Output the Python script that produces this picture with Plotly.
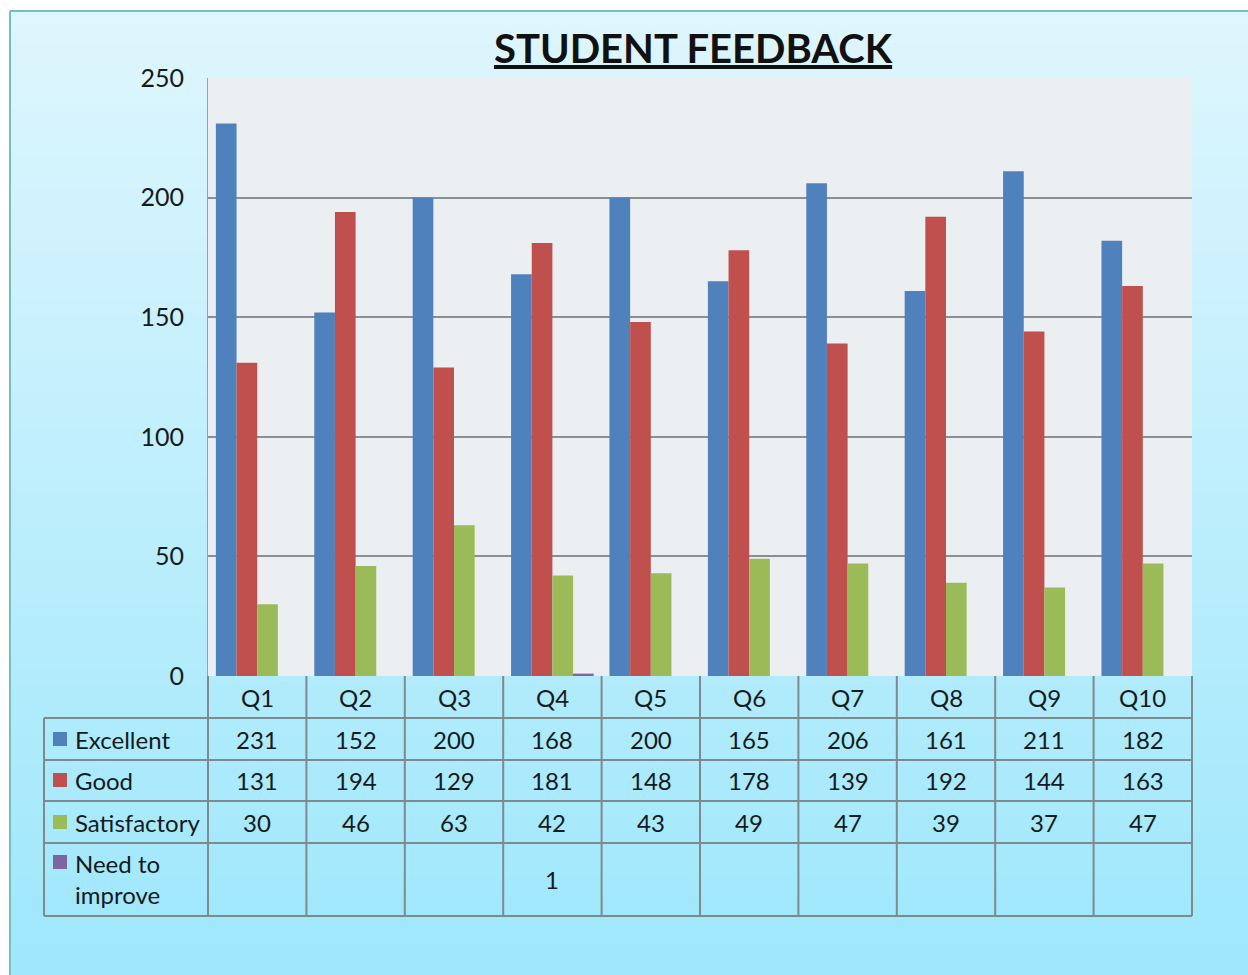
import plotly.graph_objects as go

W, H = 1248, 975

questions = ["Q1", "Q2", "Q3", "Q4", "Q5", "Q6", "Q7", "Q8", "Q9", "Q10"]
excellent = [231, 152, 200, 168, 200, 165, 206, 161, 211, 182]
good = [131, 194, 129, 181, 148, 178, 139, 192, 144, 163]
satisfactory = [30, 46, 63, 42, 43, 49, 47, 39, 37, 47]
need_to_improve = [None, None, None, 1, None, None, None, None, None, None]

series_names = ["Excellent", "Good", "Satisfactory", "Need to improve"]
series_labels = ["Excellent", "Good", "Satisfactory", "Need to<br>improve"]
series_values = [excellent, good, satisfactory, need_to_improve]
series_colors = ["#4F81BD", "#C0504D", "#9BBB59", "#8064A2"]

y_ticks = [0, 50, 100, 150, 200, 250]

FONT = "Lato"
TXT = "#151a1c"
LINE = "#7f8a8c"

def px(x):
    return x / W

def py(y):
    return 1 - y / H

# plot area in pixels
PL, PR, PT, PB = 208, 1192, 78, 676

fig = go.Figure()
for name, vals, col in zip(series_names, series_values, series_colors):
    fig.add_trace(go.Bar(x=questions, y=vals, name=name, marker=dict(color=col, line=dict(width=0)),
                         showlegend=False))

shapes = []
# background gradient (chart area box)
n = 60
top_c = (222, 246, 253)
bot_c = (158, 231, 252)
x0b, y0b = 10, 11
for i in range(n):
    t = i / (n - 1)
    c = tuple(int(round(top_c[k] + (bot_c[k] - top_c[k]) * t)) for k in range(3))
    ya = y0b + (H - y0b) * i / n
    yb = y0b + (H - y0b) * (i + 1) / n + 1
    shapes.append(dict(type="rect", xref="paper", yref="paper", x0=px(x0b), x1=1.0,
                       y0=py(min(yb, H)), y1=py(ya), fillcolor="rgb(%d,%d,%d)" % c,
                       line=dict(width=0), layer="below"))
# outer border
shapes.append(dict(type="line", xref="paper", yref="paper", x0=px(x0b), x1=1.0, y0=py(y0b), y1=py(y0b),
                   line=dict(color="#78bcbc", width=2), layer="below"))
shapes.append(dict(type="line", xref="paper", yref="paper", x0=px(x0b), x1=px(x0b), y0=py(y0b), y1=0,
                   line=dict(color="#78bcbc", width=2), layer="below"))
# plot area background
shapes.append(dict(type="rect", xref="x domain", yref="y domain", x0=0, x1=1, y0=0, y1=1,
                   fillcolor="#eceff1", line=dict(width=0), layer="below"))

# table lines
col_w = (PR - PL) / len(questions)
row_lines = [718, 760, 801, 843, 916]
for yl in row_lines:
    shapes.append(dict(type="line", xref="paper", yref="paper", x0=px(44), x1=px(PR), y0=py(yl), y1=py(yl),
                       line=dict(color=LINE, width=2)))
shapes.append(dict(type="line", xref="paper", yref="paper", x0=px(44), x1=px(44), y0=py(718), y1=py(916),
                   line=dict(color=LINE, width=2)))
for k in range(len(questions) + 1):
    xl = PL + col_w * k
    shapes.append(dict(type="line", xref="paper", yref="paper", x0=px(xl), x1=px(xl), y0=py(PB), y1=py(916),
                       line=dict(color=LINE, width=2)))

annotations = []
# title
annotations.append(dict(text="<b><u>STUDENT FEEDBACK</u></b>", xref="paper", yref="paper",
                        x=px(693), y=py(48), showarrow=False, xanchor="center", yanchor="middle",
                        font=dict(family=FONT, size=40, color="#111111")))
# header row
for q in questions:
    annotations.append(dict(text=q, xref="x", yref="paper", x=q, y=py(697), showarrow=False,
                            xanchor="center", yanchor="middle", font=dict(family=FONT, size=24, color=TXT)))
row_centers = [739, 780, 822, 879]
for lab, vals, col, yc in zip(series_labels, series_values, series_colors, row_centers):
    ky = yc
    if "<br>" in lab:
        ky = 862
    shapes.append(dict(type="rect", xref="paper", yref="paper", x0=px(53), x1=px(67),
                       y0=py(ky + 7), y1=py(ky - 7), fillcolor=col, line=dict(width=0)))
    annotations.append(dict(text=lab, xref="paper", yref="paper", x=px(73), y=py(yc), showarrow=False,
                            xanchor="left", yanchor="middle", align="left",
                            font=dict(family=FONT, size=24, color=TXT)))
    for q, v in zip(questions, vals):
        if v is None:
            continue
        annotations.append(dict(text=str(v), xref="x", yref="paper", x=q, y=py(yc), showarrow=False,
                                xanchor="center", yanchor="middle", font=dict(family=FONT, size=24, color=TXT)))

fig.update_layout(
    width=W, height=H,
    margin=dict(l=0, r=0, t=0, b=0, pad=0),
    paper_bgcolor="white",
    plot_bgcolor="rgba(0,0,0,0)",
    barmode="group", bargap=0.16, bargroupgap=0,
    shapes=shapes, annotations=annotations,
    xaxis=dict(domain=[px(PL), px(PR)], showticklabels=False, ticks="", showgrid=False,
               showline=False, zeroline=False, automargin=False),
    yaxis=dict(domain=[py(PB), py(PT)], range=[0, 250], tickvals=y_ticks, showgrid=True,
               gridcolor="#8a8f91", gridwidth=1.5, zeroline=False, showline=True, linecolor="#9aa0a2",
               linewidth=1, ticks="", ticklabelstandoff=18, automargin=False,
               tickfont=dict(family=FONT, size=25, color=TXT)),
)

fig.write_html("out.html", config={"displayModeBar": False},
               post_script="document.body.style.margin='0';document.body.style.overflow='hidden';")
